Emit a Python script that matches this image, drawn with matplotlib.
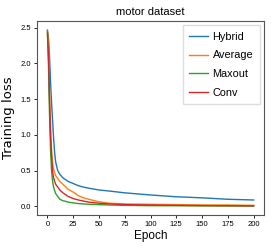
import matplotlib
matplotlib.use('Agg')
import matplotlib.pyplot as plt

epochs = [0, 1, 2, 3, 4, 5, 6, 7, 8, 10, 12, 15, 18, 20, 25, 30, 35, 40,
          50, 60, 75, 100, 125, 150, 175, 200]

hybrid = [2.45, 2.35, 2.1, 1.75, 1.45, 1.2, 0.95, 0.75, 0.62, 0.5, 0.45, 0.4,
          0.37, 0.35, 0.32, 0.29, 0.27, 0.255, 0.23, 0.215, 0.19, 0.16, 0.135,
          0.12, 0.1, 0.09]
average = [2.47, 2.3, 1.6, 1.1, 0.8, 0.6, 0.52, 0.47, 0.43, 0.39, 0.35, 0.31,
           0.27, 0.24, 0.2, 0.15, 0.12, 0.1, 0.065, 0.045, 0.035, 0.03, 0.025,
           0.02, 0.02, 0.015]
maxout = [2.45, 2.0, 1.3, 0.8, 0.5, 0.35, 0.27, 0.22, 0.18, 0.14, 0.1, 0.08,
          0.07, 0.06, 0.05, 0.04, 0.035, 0.03, 0.025, 0.02, 0.015, 0.01, 0.01,
          0.008, 0.007, 0.005]
conv = [2.42, 2.1, 1.5, 1.0, 0.7, 0.48, 0.4, 0.35, 0.31, 0.27, 0.23, 0.19,
        0.16, 0.14, 0.11, 0.09, 0.075, 0.06, 0.045, 0.035, 0.025, 0.02, 0.015,
        0.012, 0.01, 0.008]

series = [('Hybrid', hybrid, '#1f77b4'),
          ('Average', average, '#ff7f0e'),
          ('Maxout', maxout, '#2ca02c'),
          ('Conv', conv, '#d62728')]

# narrower face to mimic the squeezed look of the original
narrow = 'Liberation Sans'

fig = plt.figure(figsize=(2.77, 2.49), dpi=100)
ax = fig.add_axes([0.134, 0.137, 0.819, 0.779])

for name, vals, col in series:
    ax.plot(epochs, vals, color=col, linewidth=1.0, label=name)

ax.set_title('motor dataset', fontsize=8, family=narrow, pad=4)
ax.set_xlabel('Epoch', fontsize=8.5, family=narrow, labelpad=1)
ax.set_ylabel('Training loss', fontsize=9.5, family='DejaVu Sans', labelpad=4)
ax.set_xticks([0, 25, 50, 75, 100, 125, 150, 175, 200])
ax.set_yticks([0.0, 0.5, 1.0, 1.5, 2.0, 2.5])
ax.tick_params(labelsize=5.5, length=2.5, width=0.6, pad=2)
for lbl in ax.get_xticklabels() + ax.get_yticklabels():
    lbl.set_family(narrow)
for s in ax.spines.values():
    s.set_linewidth(0.8)
    s.set_color('#555555')

ax.legend(loc='upper right', prop={'family': narrow, 'size': 7.8},
          handlelength=1.7, handletextpad=0.45, borderaxespad=0.4,
          fancybox=False, framealpha=1, edgecolor='#dddddd',
          labelspacing=0.8, borderpad=0.6)

fig.savefig('out.png', dpi=100)
